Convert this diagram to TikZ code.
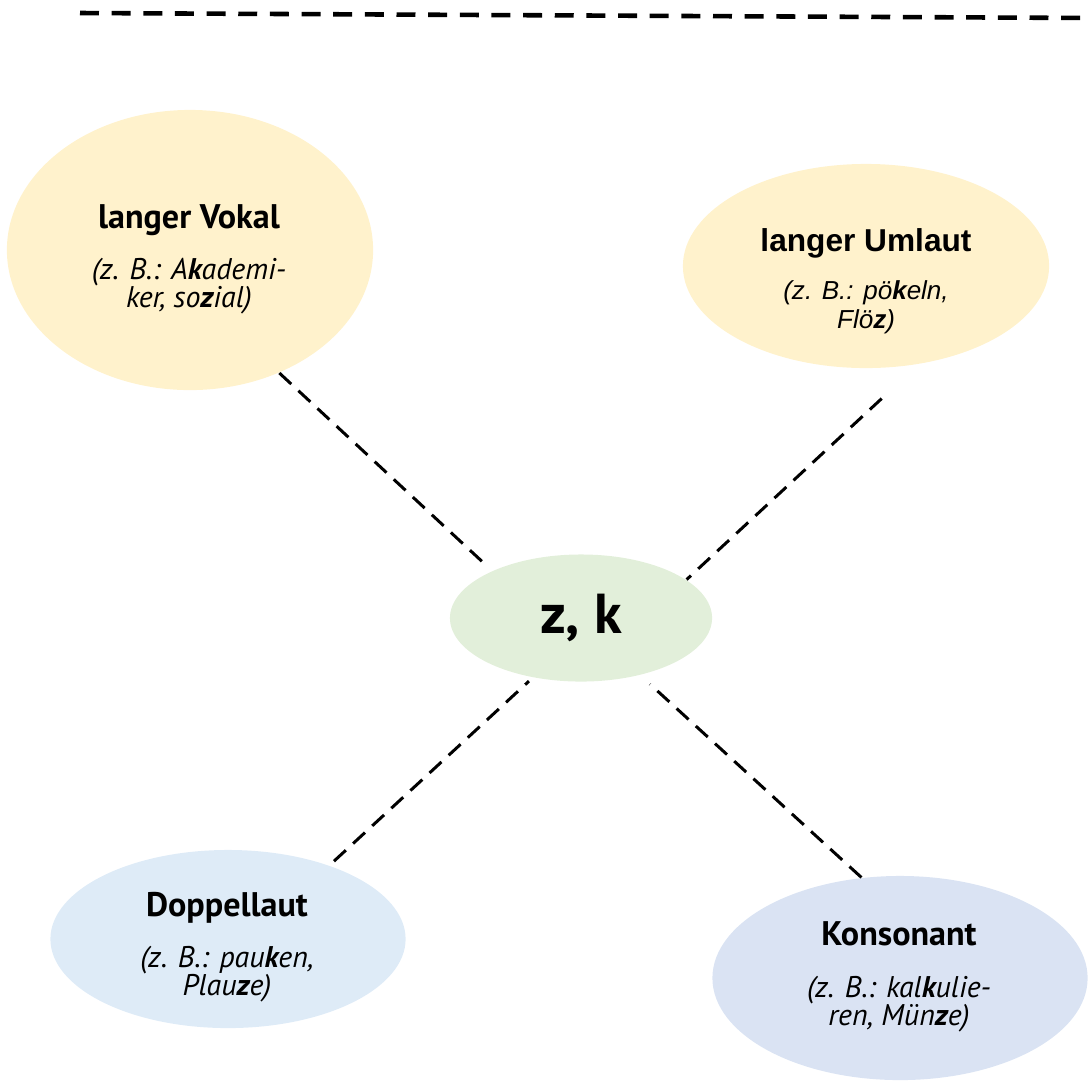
\documentclass[tikz,border=0pt]{standalone}
\usepackage{fontspec}
\setmainfont{PT Sans}
\newfontfamily\arialfont{Liberation Sans}
\usetikzlibrary{shapes.geometric}

\definecolor{vokalgelb}{HTML}{FFF2CC}
\definecolor{zkgruen}{HTML}{E2EFDA}
\definecolor{doppelblau}{HTML}{DEEBF7}
\definecolor{konsblau}{HTML}{DAE3F3}

\tikzset{
  laut/.style={ellipse, inner sep=0pt},
  lauttext/.style={inner sep=0pt, align=center, font=\fontsize{8.5}{8}\selectfont},
  verbindung/.style={line width=0.85pt, dash pattern=on 4.6pt off 2.8pt},
  randlinie/.style={line width=1.3pt, dash pattern=on 5.4pt off 3.6pt}
}
\newcommand{\titel}[1]{{\fontsize{9.7}{11}\selectfont\bfseries #1}}

\begin{document}
\setlength{\lineskiplimit}{-10pt}
\begin{tikzpicture}[x=0.01cm,y=-0.01cm]
\useasboundingbox (0,0) rectangle (1092,1081);

\coordinate (obenlinks) at (80,13);
\coordinate (obenrechts) at (1092,18);
\draw[randlinie] (obenlinks) -- (obenrechts);

\node[laut, fill=vokalgelb, minimum width=3.66cm, minimum height=2.8cm] (vokal) at (190,250) {};
\node[laut, fill=vokalgelb, minimum width=3.66cm, minimum height=2.04cm] (umlaut) at (866,266) {};
\node[laut, fill=zkgruen, minimum width=2.62cm, minimum height=1.27cm, font=\fontsize{16}{18}\selectfont\bfseries] (zk) at (581,618) {z, k};
\node[laut, fill=doppelblau, minimum width=3.55cm, minimum height=1.78cm] (doppel) at (228,939) {};
\node[laut, fill=konsblau, minimum width=3.75cm, minimum height=2.04cm] (konsonant) at (900,978) {};

\node[lauttext] (vokaltext) at (189,259)
  {\titel{langer Vokal}\\[6.5pt]\itshape (z. B.: A\textbf{k}ademi-\\\itshape ker, so\textbf{z}ial)};
\node[lauttext, font=\arialfont\fontsize{7.4}{8.2}\selectfont] (umlauttext) at (866,281)
  {{\fontsize{9}{11}\selectfont\bfseries langer Umlaut}\\[5.4pt]\itshape (z. B.: pö\textbf{k}eln,\\\itshape Flö\textbf{z})};
\node[lauttext] (doppeltext) at (227,947)
  {\titel{Doppellaut}\\[6.5pt]\itshape (z. B.: pau\textbf{k}en,\\\itshape Plau\textbf{z}e)};
\node[lauttext] (konsonanttext) at (899,977)
  {\titel{Konsonant}\\[6.8pt]\itshape (z. B.: kal\textbf{k}ulie-\\\itshape ren, Mün\textbf{z}e)};

\draw[verbindung, shorten >=0.06cm] (vokal.-54) -- (zk.152.6);
\draw[verbindung, shorten <=0.5cm] (umlaut.-62.6) -- (zk.20.4);
\draw[verbindung, shorten <=0.06cm, shorten >=0.05cm] (doppel.36) -- (zk.-129);
\draw[verbindung, shorten >=0.13cm] (konsonant.111.6) -- (zk.-44.4);
\end{tikzpicture}
\end{document}
